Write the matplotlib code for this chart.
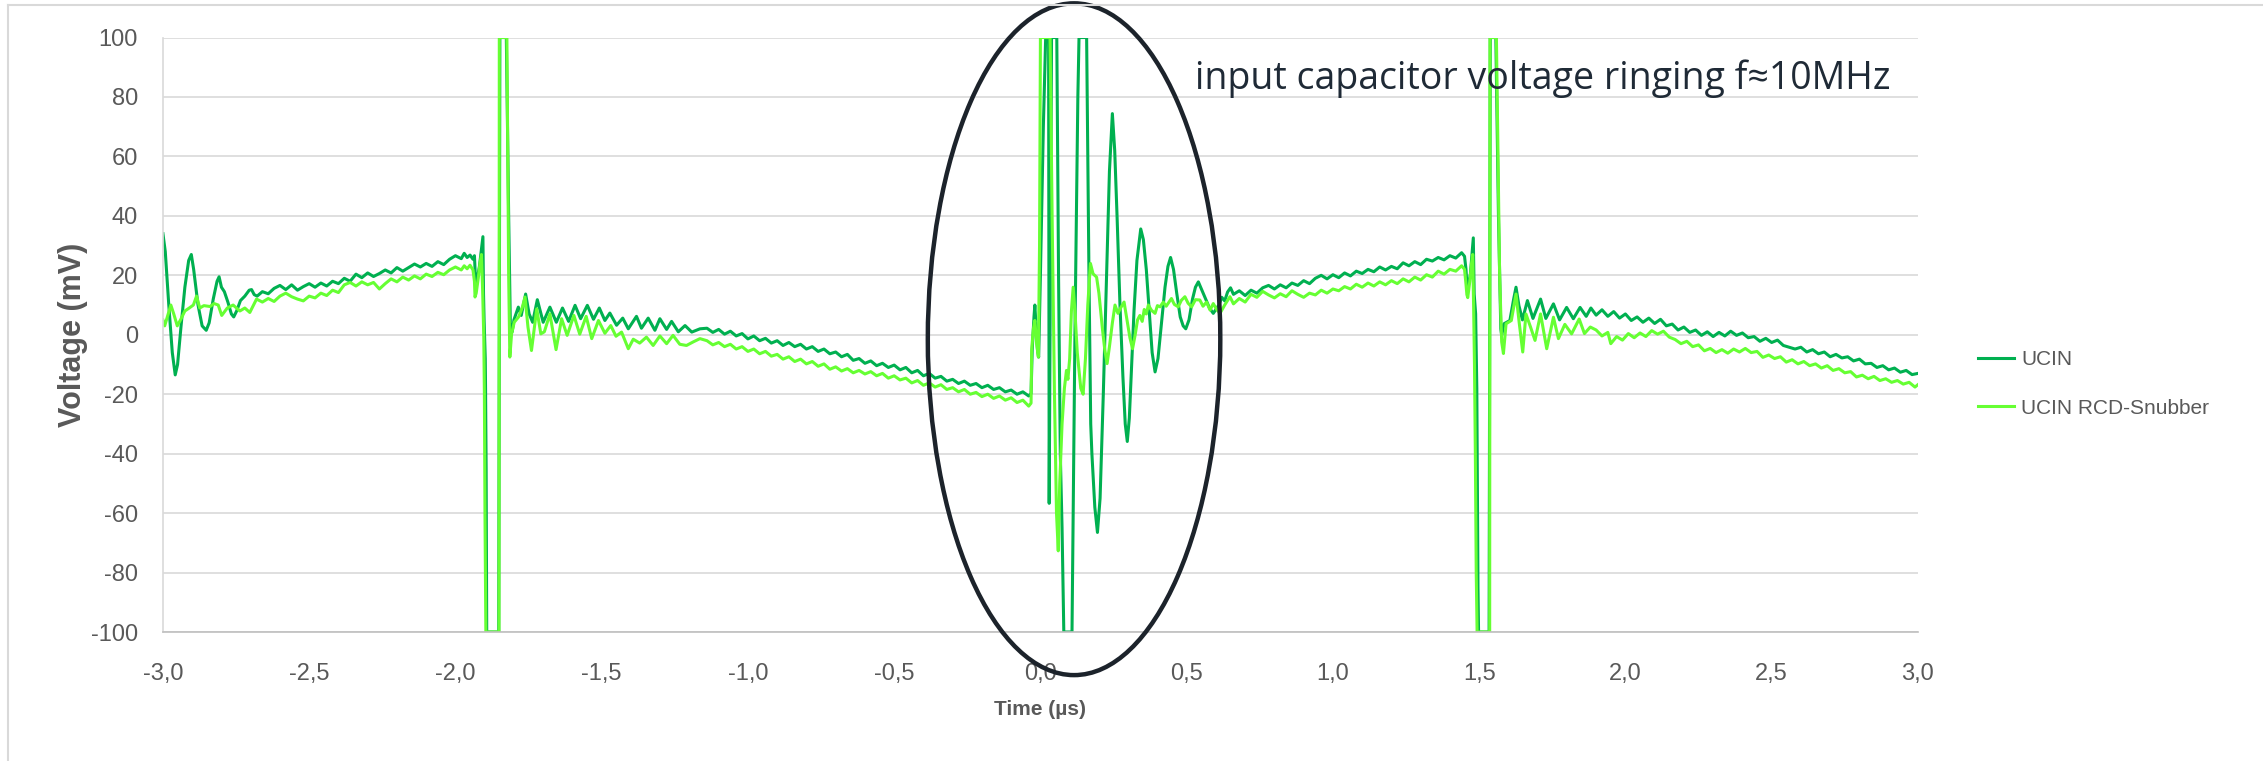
import matplotlib
matplotlib.use("Agg")
import matplotlib.pyplot as plt
from matplotlib.patches import Ellipse
from matplotlib.lines import Line2D

# oscilloscope traces: (time in µs, voltage in mV)
ucin_ring = [(-3.000, 34), (-2.992, 28), (-2.980, 10), (-2.968, -6), (-2.958, -13.5), (-2.950, -10),
             (-2.938, 3), (-2.925, 16), (-2.912, 25), (-2.903, 27), (-2.895, 22), (-2.880, 10),
             (-2.866, 3), (-2.852, 1.5), (-2.842, 4), (-2.828, 12), (-2.815, 18), (-2.808, 19.5),
             (-2.800, 16), (-2.790, 14.5), (-2.778, 11), (-2.766, 7), (-2.758, 6), (-2.748, 8),
             (-2.735, 11.5), (-2.720, 13), (-2.705, 15), (-2.697, 15.2), (-2.688, 13.5), (-2.678, 13)]
ucin_rise1 = [(-2.66, 14.5), (-2.64, 13.8), (-2.62, 15.6), (-2.60, 16.6), (-2.58, 15.2), (-2.56, 16.8),
              (-2.54, 15.0), (-2.52, 16.2), (-2.50, 17.2), (-2.48, 16.0), (-2.46, 17.4), (-2.44, 16.4),
              (-2.42, 18.0), (-2.40, 17.2), (-2.38, 19.0), (-2.36, 18.0), (-2.34, 20.4), (-2.32, 19.2),
              (-2.30, 20.8), (-2.28, 19.6), (-2.26, 20.6), (-2.24, 21.8), (-2.22, 20.8), (-2.20, 22.6),
              (-2.18, 21.4), (-2.16, 22.6), (-2.14, 23.8), (-2.12, 22.8), (-2.10, 24.0), (-2.08, 23.0),
              (-2.06, 24.6), (-2.04, 23.6), (-2.02, 25.4), (-2.00, 26.6), (-1.98, 25.6), (-1.97, 27.4),
              (-1.96, 26.0), (-1.95, 26.8), (-1.94, 25.4), (-1.935, 26.6)]
ucin_spike1 = [(-1.932, 20), (-1.929, 16), (-1.925, 19), (-1.918, 23), (-1.912, 28), (-1.906, 33),
               (-1.904, 14), (-1.902, 5), (-1.900, -2), (-1.898, -8), (-1.897, -18), (-1.895, -45),
               (-1.893, -100), (-1.852, -100), (-1.848, 100), (-1.826, 100), (-1.818, 40), (-1.812, 2),
               (-1.806, 1), (-1.800, 5), (-1.785, 9.3), (-1.775, 6.5), (-1.760, 13.7), (-1.748, 7),
               (-1.736, 4.2), (-1.720, 11.8), (-1.700, 4.2), (-1.677, 9.3), (-1.655, 4.2), (-1.634, 9),
               (-1.613, 4.5), (-1.591, 9.9), (-1.572, 5.4), (-1.549, 9.9), (-1.528, 5.2), (-1.508, 9),
               (-1.489, 4.8), (-1.472, 7.3), (-1.449, 3.2), (-1.428, 5.6), (-1.409, 2), (-1.381, 6.2),
               (-1.364, 2.2), (-1.341, 5.6), (-1.318, 1.5), (-1.301, 5.4), (-1.278, 1.8), (-1.261, 4.5),
               (-1.238, 1.0), (-1.215, 3.1), (-1.192, 0.9), (-1.164, 2)]
ucin_fall = [(-1.14, 2.2), (-1.12, 0.8), (-1.10, 1.8), (-1.08, 0.2), (-1.06, 1.2), (-1.04, -0.4),
             (-1.02, 0.4), (-1.00, -1.4), (-0.98, -0.4), (-0.96, -2.0), (-0.94, -1.2), (-0.92, -2.8),
             (-0.90, -2.0), (-0.88, -3.6), (-0.86, -2.6), (-0.84, -4.0), (-0.82, -3.2), (-0.80, -4.8),
             (-0.78, -4.0), (-0.76, -5.6), (-0.74, -4.8), (-0.72, -6.4), (-0.70, -5.8), (-0.68, -7.4),
             (-0.66, -6.6), (-0.64, -8.6), (-0.62, -8.0), (-0.60, -9.6), (-0.58, -8.8), (-0.56, -10.4),
             (-0.54, -9.6), (-0.52, -11.0), (-0.50, -10.2), (-0.48, -11.8), (-0.46, -11.0), (-0.44, -12.8),
             (-0.42, -12.0), (-0.40, -13.8), (-0.38, -13.0), (-0.36, -14.6), (-0.34, -14.0), (-0.32, -15.6),
             (-0.30, -15.0), (-0.28, -16.4), (-0.26, -15.6), (-0.24, -17.0), (-0.22, -16.4), (-0.20, -17.8),
             (-0.18, -17.0), (-0.16, -18.4), (-0.14, -17.8), (-0.12, -19.2), (-0.10, -18.6), (-0.08, -20.0),
             (-0.06, -19.2), (-0.04, -20.6), (-0.032, -19.8)]
ucin_switch = [(-0.028, -5), (-0.022, 6), (-0.019, 10), (-0.015, 3), (-0.010, -5), (-0.006, -7.5),
               (0.000, 20), (0.010, 70), (0.018, 100), (0.028, 100), (0.030, -56.7), (0.034, 20),
               (0.038, 100), (0.056, 100), (0.062, 20), (0.068, -40), (0.074, -65), (0.080, -100),
               (0.108, -100), (0.118, 0), (0.128, 80), (0.132, 100), (0.158, 100), (0.166, 20),
               (0.172, -30), (0.176, -40), (0.186, -58), (0.195, -66.5), (0.204, -55), (0.215, -20),
               (0.226, 20), (0.236, 55), (0.246, 74.4), (0.254, 62), (0.262, 40), (0.272, 10),
               (0.282, -14), (0.290, -30), (0.297, -35.9), (0.304, -28), (0.312, -10), (0.320, 8),
               (0.330, 25), (0.343, 35.6), (0.352, 32), (0.362, 22), (0.372, 8), (0.382, -6),
               (0.392, -12.5), (0.402, -8), (0.414, 4), (0.426, 16), (0.436, 23), (0.445, 26),
               (0.455, 22), (0.466, 14), (0.478, 6), (0.488, 3), (0.497, 2), (0.508, 5), (0.520, 12),
               (0.530, 16), (0.540, 17.8), (0.552, 15), (0.565, 12), (0.578, 9), (0.591, 7.2), (0.600, 8.5)]
ucin_rise2 = [(0.61, 10.0), (0.62, 12.6), (0.63, 11.4), (0.64, 14.4), (0.65, 15.8), (0.66, 13.6),
              (0.68, 14.8), (0.70, 13.2), (0.72, 15.0), (0.74, 14.0), (0.76, 15.8), (0.78, 16.6),
              (0.80, 15.4), (0.82, 16.8), (0.84, 15.8), (0.86, 17.4), (0.88, 16.6), (0.90, 18.2),
              (0.92, 17.2), (0.94, 19.0), (0.96, 20.0), (0.98, 18.8), (1.00, 20.2), (1.02, 19.2),
              (1.04, 20.8), (1.06, 19.8), (1.08, 21.4), (1.10, 20.6), (1.12, 22.0), (1.14, 21.2),
              (1.16, 22.8), (1.18, 21.8), (1.20, 23.0), (1.22, 22.2), (1.24, 24.2), (1.26, 23.2),
              (1.28, 24.6), (1.30, 23.6), (1.32, 25.4), (1.34, 24.8), (1.36, 26.0), (1.38, 25.2),
              (1.40, 26.6), (1.42, 25.8), (1.44, 27.6), (1.45, 26.4)]
ucin_spike2 = [(1.455, 22), (1.458, 17), (1.462, 16), (1.470, 20.4), (1.476, 28), (1.480, 32.6),
               (1.483, 13.7), (1.488, 7), (1.490, -6), (1.492, -18), (1.494, -50), (1.496, -85),
               (1.498, -100), (1.534, -100), (1.538, 100), (1.557, 100), (1.566, 40), (1.574, 2),
               (1.577, -0.2), (1.585, 3.7), (1.605, 4.8), (1.618, 12), (1.626, 16), (1.636, 9.8),
               (1.648, 5), (1.665, 11.5), (1.684, 5.5), (1.710, 12), (1.728, 5.5), (1.754, 10.4),
               (1.775, 5), (1.799, 9.2), (1.822, 5.4), (1.845, 9.2), (1.866, 6.2), (1.882, 9)]
ucin_fall2 = [(1.90, 6.6), (1.92, 8.4), (1.94, 6.2), (1.96, 7.8), (1.98, 5.6), (2.00, 7.0), (2.02, 4.8),
              (2.04, 6.0), (2.06, 4.2), (2.08, 5.6), (2.10, 3.8), (2.12, 5.2), (2.14, 3.0), (2.16, 3.6),
              (2.18, 1.6), (2.20, 2.6), (2.22, 0.8), (2.24, 1.6), (2.26, -0.2), (2.28, 1.0), (2.30, -0.6),
              (2.32, 0.8), (2.34, -0.4), (2.36, 1.2), (2.38, -0.2), (2.40, 0.6), (2.42, -1.0), (2.44, -0.6),
              (2.46, -2.2), (2.48, -1.2), (2.50, -2.6), (2.52, -1.8), (2.54, -3.6), (2.56, -4.2),
              (2.58, -4.8), (2.60, -4.2), (2.62, -5.8), (2.64, -5.0), (2.66, -6.4), (2.68, -5.8),
              (2.70, -7.4), (2.72, -6.6), (2.74, -7.8), (2.76, -7.4), (2.78, -8.8), (2.80, -8.2),
              (2.82, -9.8), (2.84, -9.6), (2.86, -11.0), (2.88, -10.4), (2.90, -11.8), (2.92, -11.2),
              (2.94, -12.6), (2.96, -12.0), (2.98, -13.4), (3.00, -13.0)]

rcd_ring = [(-3.000, 5), (-2.994, 3), (-2.985, 6), (-2.973, 10), (-2.963, 7), (-2.951, 3), (-2.940, 5),
            (-2.925, 8), (-2.910, 9), (-2.896, 10), (-2.885, 13), (-2.874, 9), (-2.860, 9.8),
            (-2.839, 9.5), (-2.825, 10.5), (-2.811, 10), (-2.799, 6.5), (-2.780, 9), (-2.760, 10),
            (-2.737, 8), (-2.720, 9), (-2.703, 7.5), (-2.690, 10), (-2.680, 12)]
rcd_rise1 = [(-2.66, 11.0), (-2.64, 12.2), (-2.62, 11.2), (-2.60, 13.0), (-2.58, 14.0), (-2.56, 12.8),
             (-2.54, 12.0), (-2.52, 11.4), (-2.50, 13.0), (-2.48, 12.4), (-2.46, 14.0), (-2.44, 13.2),
             (-2.42, 15.0), (-2.40, 14.2), (-2.38, 16.8), (-2.36, 17.6), (-2.34, 16.4), (-2.32, 17.8),
             (-2.30, 16.8), (-2.28, 17.6), (-2.26, 15.4), (-2.24, 17.2), (-2.22, 18.8), (-2.20, 17.8),
             (-2.18, 19.4), (-2.16, 18.4), (-2.14, 19.8), (-2.12, 18.8), (-2.10, 20.4), (-2.08, 19.6),
             (-2.06, 21.0), (-2.04, 20.2), (-2.02, 21.8), (-2.00, 22.8), (-1.98, 21.8), (-1.97, 23.2),
             (-1.96, 22.2), (-1.95, 23.4), (-1.94, 21.8)]
rcd_spike1 = [(-1.935, 18), (-1.933, 12.7), (-1.929, 14), (-1.922, 19), (-1.916, 24), (-1.911, 27),
              (-1.907, 15), (-1.905, 7), (-1.903, -1), (-1.901, -20), (-1.899, -60), (-1.896, -100),
              (-1.851, -100), (-1.850, 100), (-1.824, 100), (-1.818, 20), (-1.814, -7.5), (-1.808, 0.3),
              (-1.799, 4.2), (-1.784, 6), (-1.772, 9), (-1.762, 12.7), (-1.752, 2.6), (-1.740, -5.3),
              (-1.722, 8.7), (-1.708, 0.3), (-1.696, 1), (-1.677, 7), (-1.656, -5), (-1.637, 5.4),
              (-1.618, -0.2), (-1.595, 6.5), (-1.575, 0.2), (-1.553, 6.2), (-1.534, -1.3), (-1.511, 4.8),
              (-1.489, 0.5), (-1.469, 3.1), (-1.451, -0.5), (-1.432, 0.9), (-1.409, -4.7), (-1.392, -1.5),
              (-1.370, -2.8), (-1.347, -0.8), (-1.324, -3.6), (-1.301, -0.4), (-1.278, -3), (-1.256, -0.2),
              (-1.233, -3.2), (-1.210, -3.6), (-1.187, -2.4), (-1.164, -1.3)]
rcd_fall = [(-1.14, -2.0), (-1.12, -3.4), (-1.10, -2.6), (-1.08, -4.0), (-1.06, -3.2), (-1.04, -4.8),
            (-1.02, -4.0), (-1.00, -5.6), (-0.98, -4.8), (-0.96, -6.4), (-0.94, -5.6), (-0.92, -7.2),
            (-0.90, -6.6), (-0.88, -8.2), (-0.86, -7.4), (-0.84, -9.0), (-0.82, -8.2), (-0.80, -9.8),
            (-0.78, -9.0), (-0.76, -10.6), (-0.74, -9.8), (-0.72, -11.6), (-0.70, -10.8), (-0.68, -12.2),
            (-0.66, -11.4), (-0.64, -12.8), (-0.62, -12.0), (-0.60, -13.2), (-0.58, -12.4), (-0.56, -13.8),
            (-0.54, -13.0), (-0.52, -14.6), (-0.50, -13.8), (-0.48, -15.2), (-0.46, -14.6), (-0.44, -16.2),
            (-0.42, -15.4), (-0.40, -17.0), (-0.38, -16.2), (-0.36, -17.6), (-0.34, -16.8), (-0.32, -18.4),
            (-0.30, -17.8), (-0.28, -19.2), (-0.26, -18.4), (-0.24, -20.0), (-0.22, -19.4), (-0.20, -20.8),
            (-0.18, -20.0), (-0.16, -21.4), (-0.14, -20.6), (-0.12, -22.0), (-0.10, -21.2), (-0.08, -22.8),
            (-0.06, -22.0), (-0.04, -24.0), (-0.032, -23.0)]
rcd_switch = [(-0.030, -5), (-0.024, 2), (-0.019, 4.8), (-0.013, -3), (-0.007, -7.5), (-0.003, 30),
              (0.000, 100), (0.033, 100), (0.040, 40), (0.048, -20), (0.055, -60), (0.061, -72.7),
              (0.066, -50), (0.074, -30), (0.082, -18), (0.089, -12), (0.094, -15), (0.100, -8),
              (0.106, 8), (0.112, 16), (0.118, 8), (0.126, -6), (0.138, -18), (0.146, -20), (0.154, -8),
              (0.162, 10), (0.171, 24), (0.180, 20.5), (0.192, 19.4), (0.200, 14), (0.212, 2),
              (0.220, -5), (0.228, -9.7), (0.236, -4), (0.246, 4), (0.255, 10), (0.265, 7.2), (0.274, 9),
              (0.286, 11), (0.296, 5), (0.306, -1), (0.315, -4.7), (0.324, 0), (0.332, 5), (0.340, 6.5),
              (0.348, 4.5), (0.355, 8.5), (0.362, 7.0), (0.369, 10), (0.380, 8.2), (0.392, 7.2),
              (0.400, 9.8), (0.409, 9.4), (0.420, 11.0), (0.430, 9.6), (0.448, 12.2), (0.458, 10.2),
              (0.471, 9.4), (0.482, 11.6), (0.494, 12.8), (0.505, 10.6), (0.517, 9.4), (0.530, 11.8),
              (0.545, 11.7), (0.556, 9.6), (0.568, 11.0), (0.580, 8.3), (0.591, 10.5), (0.602, 8.6)]
rcd_rise2 = [(0.614, 7.2), (0.63, 10.0), (0.648, 12.8), (0.66, 10.4), (0.68, 12.2), (0.70, 11.0),
             (0.72, 13.6), (0.74, 12.6), (0.76, 14.6), (0.78, 13.4), (0.80, 12.4), (0.82, 13.8),
             (0.84, 12.8), (0.86, 14.8), (0.88, 13.6), (0.90, 12.6), (0.92, 14.0), (0.94, 13.4),
             (0.96, 15.0), (0.98, 14.0), (1.00, 15.4), (1.02, 14.8), (1.04, 16.2), (1.06, 15.4),
             (1.08, 17.0), (1.10, 16.0), (1.12, 17.4), (1.14, 16.4), (1.16, 17.8), (1.18, 16.8),
             (1.20, 18.2), (1.22, 17.2), (1.24, 18.8), (1.26, 17.8), (1.28, 19.4), (1.30, 18.4),
             (1.32, 20.2), (1.34, 19.4), (1.36, 21.4), (1.38, 20.4), (1.40, 22.0), (1.42, 21.4),
             (1.44, 23.2), (1.45, 22.0)]
rcd_spike2 = [(1.455, 17), (1.458, 13.5), (1.461, 12.5), (1.468, 18), (1.474, 24), (1.478, 27),
              (1.481, 10), (1.484, -10), (1.487, -40), (1.490, -80), (1.493, -100), (1.536, -100),
              (1.537, 100), (1.559, 100), (1.570, 20), (1.577, -2.4), (1.583, -6.3), (1.592, 3.7),
              (1.610, 4.8), (1.626, 13.7), (1.637, 4), (1.649, -5.8), (1.660, 7), (1.676, 2.5),
              (1.691, -1.9), (1.710, 7), (1.731, -4.7), (1.754, 5.9), (1.771, -1.3), (1.793, 3.5),
              (1.816, 0.3), (1.842, 5.3), (1.860, 0.4), (1.880, 2.6)]
rcd_fall2 = [(1.90, 1.6), (1.92, -0.4), (1.94, 0.8), (1.95, -3.0), (1.97, -0.6), (1.99, -1.8), (2.01, 0.4),
             (2.03, -1.0), (2.05, 0.6), (2.07, -0.6), (2.09, 1.4), (2.11, 0.2), (2.13, 1.2), (2.15, -0.8),
             (2.17, -1.6), (2.19, -3.0), (2.21, -2.2), (2.23, -4.0), (2.25, -3.4), (2.27, -5.4),
             (2.29, -4.6), (2.31, -6.0), (2.33, -5.0), (2.35, -6.2), (2.37, -4.8), (2.39, -5.8),
             (2.41, -4.6), (2.43, -6.0), (2.45, -5.6), (2.47, -7.6), (2.49, -6.8), (2.51, -8.0),
             (2.53, -7.4), (2.55, -9.2), (2.57, -8.4), (2.59, -9.8), (2.61, -9.0), (2.63, -10.4),
             (2.65, -9.8), (2.67, -11.2), (2.69, -10.4), (2.71, -12.0), (2.73, -11.4), (2.75, -12.8),
             (2.77, -12.4), (2.79, -14.2), (2.81, -13.6), (2.83, -14.8), (2.85, -14.0), (2.87, -15.4),
             (2.89, -14.8), (2.91, -16.0), (2.93, -15.4), (2.95, -16.6), (2.97, -16.0), (2.99, -17.6),
             (3.00, -16.8)]

series_names = ["UCIN", "UCIN RCD-Snubber"]
series_colors = ["#00B050", "#66FF33"]
x_ticks = [-3.0, -2.5, -2.0, -1.5, -1.0, -0.5, 0.0, 0.5, 1.0, 1.5, 2.0, 2.5, 3.0]
x_tick_labels = ["-3,0", "-2,5", "-2,0", "-1,5", "-1,0", "-0,5", "0,0", "0,5", "1,0", "1,5", "2,0", "2,5", "3,0"]
y_ticks = [-100, -80, -60, -40, -20, 0, 20, 40, 60, 80, 100]
note = "input capacitor voltage ringing f\u224810MHz"

ucin = ucin_ring + ucin_rise1 + ucin_spike1 + ucin_fall + ucin_switch + ucin_rise2 + ucin_spike2 + ucin_fall2
rcd = rcd_ring + rcd_rise1 + rcd_spike1 + rcd_fall + rcd_switch + rcd_rise2 + rcd_spike2 + rcd_fall2

plt.rcParams["font.family"] = ["Liberation Sans", "DejaVu Sans"]
plt.rcParams["axes.unicode_minus"] = False
grey = "#595959"

fig = plt.figure(figsize=(22.63, 7.61), dpi=100)
ax = fig.add_axes([0.0720, 0.1695, 0.7755, 0.7812])

for pts, name, col in zip([ucin, rcd], series_names, series_colors):
    t, v = zip(*pts)
    ax.plot(t, v, color=col, lw=2.2, label=name, solid_joinstyle="round")

ax.set_xlim(-3, 3)
ax.set_ylim(-100, 100)
ax.set_xticks(x_ticks)
ax.set_xticklabels(x_tick_labels)
ax.set_yticks(y_ticks)
ax.tick_params(length=0, labelsize=17, colors=grey)
ax.tick_params(axis="x", pad=22)
ax.tick_params(axis="y", pad=18)
ax.grid(axis="y", color="#D9D9D9", lw=1.2)
ax.set_axisbelow(True)
for s in ["top", "right"]:
    ax.spines[s].set_visible(False)
ax.spines["left"].set_color("#D9D9D9")
ax.spines["bottom"].set_color("#BFBFBF")
ax.spines["left"].set_linewidth(1.2)
ax.spines["bottom"].set_linewidth(1.2)

ax.set_xlabel("Time (\u00b5s)", fontsize=15, fontweight="bold", color=grey, labelpad=11)
ax.set_ylabel("Voltage (mV)", fontsize=22, fontweight="bold", color=grey, labelpad=2)

# ellipse around the ringing and the note
ax.add_patch(Ellipse((0.115, -1.5), 1.0, 226, fill=False, ec="#1C232B", lw=3.2, clip_on=False, zorder=5))
ax.text(0.528, 86, note, fontsize=27, color="#1F2A36", ha="left", va="center",
        family=["Open Sans", "DejaVu Sans"])

handles = [Line2D([], [], color=c, lw=2.2) for c in series_colors]
fig.legend(handles, series_names, loc="upper left", bbox_to_anchor=(1970 / 2263, 1 - 342 / 761),
           frameon=False, fontsize=15, labelcolor=grey, handlelength=1.7, handletextpad=0.35,
           labelspacing=1.4, borderaxespad=0)

# light frame of the chart area
fig.add_artist(Line2D([0.0035, 0.0035], [0, 0.9935], transform=fig.transFigure, color="#D9D9D9", lw=1.5))
fig.add_artist(Line2D([0.0035, 1], [0.9935, 0.9935], transform=fig.transFigure, color="#D9D9D9", lw=1.5))

fig.savefig("out.png", dpi=100)
